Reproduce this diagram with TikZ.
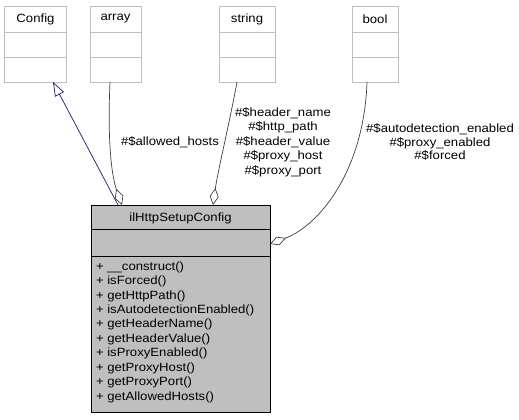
\documentclass[tikz,border=0pt]{standalone}
\usepackage{fontspec}
\setmainfont{Liberation Sans}[FakeStretch=1.1]
\usetikzlibrary{arrows.meta}
\definecolor{clsborder}{HTML}{BFBFBF}
\definecolor{maingray}{HTML}{BFBFBF}
\definecolor{edgegray}{HTML}{404040}
\definecolor{inhblue}{HTML}{191970}
\begin{document}
\begin{tikzpicture}[x=1bp,y=-1bp,
  font=\fontsize{12}{14.4}\selectfont,
  cls/.style={draw=clsborder, line width=1bp, fill=white, inner sep=0, outer sep=0},
  mainbox/.style={draw=black, fill=maingray, line width=0.8bp, inner sep=0, outer sep=0},
  txt/.style={inner sep=0, outer sep=0},
  clsline/.style={draw=clsborder, line width=1bp},
  mainline/.style={draw=black, line width=0.8bp},
  agg/.style={draw=edgegray, line width=0.7bp, -{Diamond[open, length=17bp, width=9bp]}},
  inh/.style={draw=inhblue, line width=0.7bp, -{Triangle[open, length=14bp, width=10bp]}}]
\useasboundingbox[fill=white] (0,0) rectangle (519,419);

% small classes
\node[cls, minimum width=61bp, minimum height=76bp] (config) at (35.5,44) {};
\node[txt] (configT) at (35.5,19) {Config};
\draw[clsline] (config.west |- 0,32) -- (config.east |- 0,32);
\draw[clsline] (config.west |- 0,57) -- (config.east |- 0,57);

\node[cls, minimum width=51bp, minimum height=76bp] (array) at (115.5,44) {};
\node[txt] (arrayT) at (115.5,19) {array};
\draw[clsline] (array.west |- 0,32) -- (array.east |- 0,32);
\draw[clsline] (array.west |- 0,57) -- (array.east |- 0,57);

\node[cls, minimum width=56bp, minimum height=76bp] (string) at (247,44) {};
\node[txt] (stringT) at (247,19) {string};
\draw[clsline] (string.west |- 0,32) -- (string.east |- 0,32);
\draw[clsline] (string.west |- 0,57) -- (string.east |- 0,57);

\node[cls, minimum width=46bp, minimum height=76bp] (bool) at (375,44) {};
\node[txt] (boolT) at (375,19) {bool};
\draw[clsline] (bool.west |- 0,32) -- (bool.east |- 0,32);
\draw[clsline] (bool.west |- 0,57) -- (bool.east |- 0,57);

% main class
\node[mainbox, minimum width=179bp, minimum height=207bp] (main) at (180.5,308.5) {};
\node[txt] (mainT) at (180.5,218) {ilHttpSetupConfig};
\draw[mainline] (main.west |- 0,229) -- (main.east |- 0,229);
\draw[mainline] (main.west |- 0,256) -- (main.east |- 0,256);
\node[txt, anchor=north west, align=left, font=\fontsize{12}{14.5}\selectfont] (methods) at (96,261.5) {%
+ \_\_construct()\\
+ isForced()\\
+ getHttpPath()\\
+ isAutodetectionEnabled()\\
+ getHeaderName()\\
+ getHeaderValue()\\
+ isProxyEnabled()\\
+ getProxyHost()\\
+ getProxyPort()\\
+ getAllowedHosts()};

% connectors
\draw[inh] ([xshift=27bp]main.north west) -- ([xshift=-13bp]config.south east);
\draw[agg] ([xshift=-5.5bp]array.south) .. controls (107,150) and (113,180) .. ([xshift=31bp]main.north west);
\draw[agg] ([xshift=-10bp]string.south) .. controls (228,130) and (218,170) .. ([xshift=122bp]main.north west);
\draw[agg] ([xshift=-8bp]bool.south) .. controls (364,170) and (320,225) .. ([yshift=-39bp]main.north east);

% labels
\node[txt] (lblArray) at (170,142) {\#\$allowed\_hosts};
\node[txt, align=center, font=\fontsize{12}{14.5}\selectfont] (lblString) at (283,142) {\#\$header\_name\\\#\$http\_path\\\#\$header\_value\\\#\$proxy\_host\\\#\$proxy\_port};
\node[txt, align=center, font=\fontsize{12}{14}\selectfont] (lblBool) at (440,142) {\#\$autodetection\_enabled\\\#\$proxy\_enabled\\\#\$forced};
\end{tikzpicture}
\end{document}
